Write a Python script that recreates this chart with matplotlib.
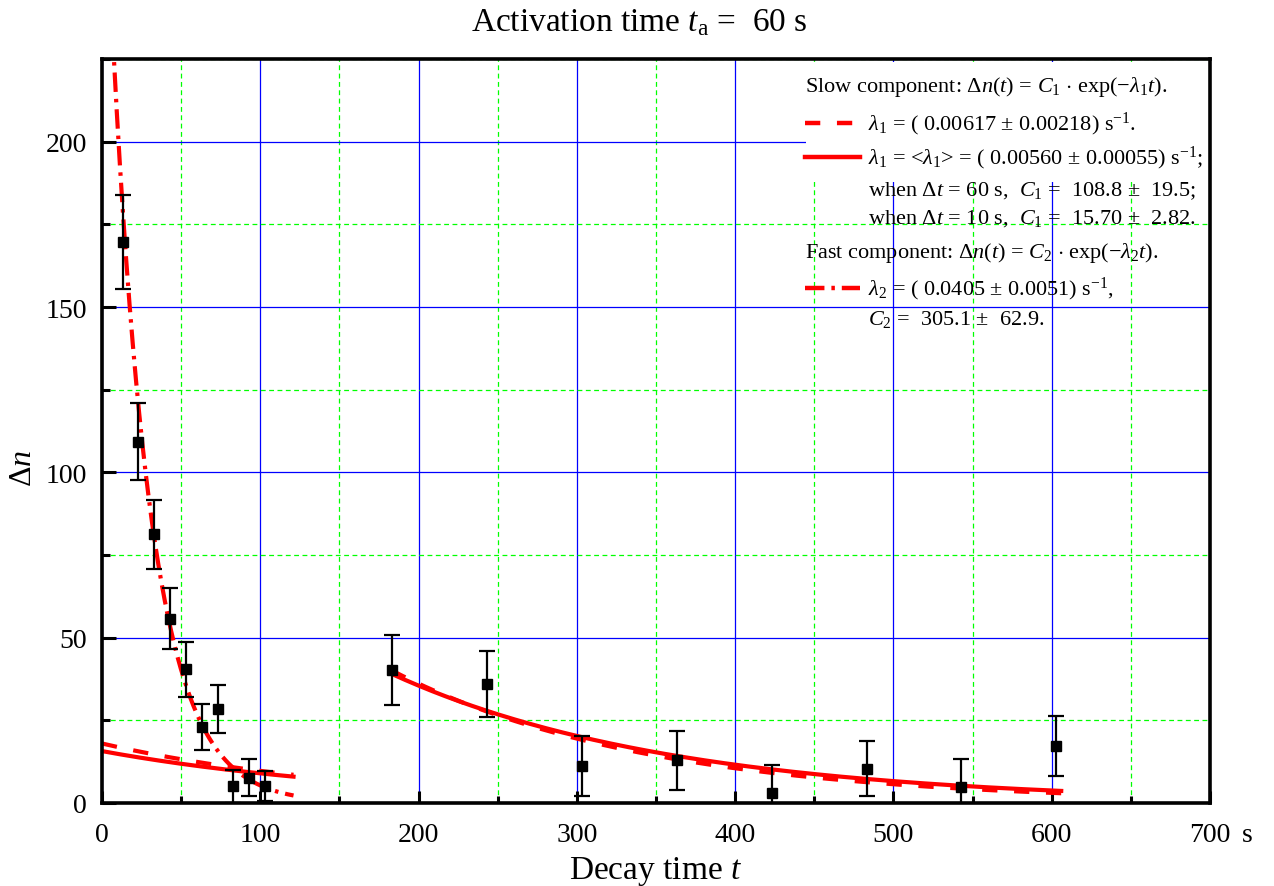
import numpy as np
import matplotlib
matplotlib.use('Agg')
import matplotlib.pyplot as plt
from matplotlib.ticker import MultipleLocator
from matplotlib.patches import Rectangle

plt.rcParams['font.family'] = ['Liberation Serif', 'DejaVu Serif']
plt.rcParams['mathtext.fontset'] = 'custom'
plt.rcParams['mathtext.rm'] = 'Liberation Serif'
plt.rcParams['mathtext.it'] = 'Liberation Serif:italic'
plt.rcParams['mathtext.bf'] = 'Liberation Serif:bold'
plt.rcParams['lines.scale_dashes'] = False

# ---------------- data ----------------
t_early = [13, 23, 33, 43, 53, 63, 73, 83, 93, 103]
dn_early = [169.6, 109.3, 81.2, 55.7, 40.4, 23.0, 28.4, 5.1, 7.7, 5.1]
err_early = [14.2, 11.7, 10.5, 9.2, 8.2, 7.0, 7.3, 5.0, 5.5, 4.6]

t_late = [183, 243, 303, 363, 423, 483, 543, 603]
dn_late = [40.2, 36.1, 11.2, 12.9, 3.0, 10.4, 4.8, 17.3]
err_late = [10.5, 10.0, 9.0, 9.0, 8.5, 8.3, 8.5, 9.0]

# fit parameters (from the legend)
lam1_fit = 0.00617
lam1_mean = 0.00560
C1_dt60 = 108.8
C1_dt10 = 15.70
C1_dash_dt60 = 124.0
C1_dash_dt10 = 18.0
lam2 = 0.0405
C2 = 305.1

early_span = (0.0, 121.0)
late_span = (183.0, 606.0)

x_ticks = [0, 100, 200, 300, 400, 500, 600, 700]
y_ticks = [0, 50, 100, 150, 200]

legend_lines = [
    r"Slow component: $\Delta n(t)$ = $C_1$ $\cdot$ exp($-\lambda_1 t$).",
    r"$\lambda_1$ = ( 0.00617 $\pm$ 0.00218) s$^{-1}$.",
    r"$\lambda_1$ = <$\lambda_1$> = ( 0.00560 $\pm$ 0.00055) s$^{-1}$;",
    r"when $\Delta t$ = 60 s,  $C_1$ =  108.8 $\pm$  19.5;",
    r"when $\Delta t$ = 10 s,  $C_1$ =  15.70 $\pm$  2.82.",
    r"Fast component: $\Delta n(t)$ = $C_2$ $\cdot$ exp($-\lambda_2 t$).",
    r"$\lambda_2$ = ( 0.0405 $\pm$ 0.0051) s$^{-1}$,",
    r"$C_2$ =  305.1 $\pm$  62.9.",
]

# ---------------- figure ----------------
W, H = 1274, 887
fig = plt.figure(figsize=(W / 100, H / 100), dpi=100)
ax_l, ax_r, ax_t, ax_b = 102, 1210, 60, 804
ax = fig.add_axes([ax_l / W, 1 - ax_b / H, (ax_r - ax_l) / W, (ax_b - ax_t) / H])

ax.set_xlim(0, 700)
ax.set_ylim(0, 225)
ax.xaxis.set_major_locator(MultipleLocator(100))
ax.xaxis.set_minor_locator(MultipleLocator(50))
ax.yaxis.set_major_locator(MultipleLocator(50))
ax.yaxis.set_minor_locator(MultipleLocator(25))
ax.set_xticks(x_ticks)
ax.set_yticks(y_ticks)

ax.set_axisbelow(True)
ax.grid(which='major', color='#0000FF', lw=0.9, ls='-')
ax.grid(which='minor', color='#00FF00', lw=0.9, ls=(0, (3.5, 2.5)))

for s in ax.spines.values():
    s.set_linewidth(2.6)
    s.set_color('black')

ax.tick_params(which='both', direction='in', top=False, right=False,
               width=2.2, labelsize=20, color='black')
ax.tick_params(axis='y', which='major', length=10, pad=11)
ax.tick_params(axis='y', which='minor', length=6)
ax.tick_params(axis='x', which='major', length=9, pad=14)
ax.tick_params(axis='x', which='minor', length=5)

# white background of the legend block
ax.add_patch(Rectangle(((806 - ax_l) / (ax_r - ax_l), (ax_b - 183) / (ax_b - ax_t)),
                       1 - (806 - ax_l) / (ax_r - ax_l), 1 - (ax_b - 183) / (ax_b - ax_t) - 0.004,
                       transform=ax.transAxes, facecolor='white', edgecolor='none', zorder=1))

red = '#FF0000'
dash_style = (0, (11, 12))
dashdot_style = (0, (14, 5, 2.5, 5))

te = np.linspace(*early_span, 300)
tl = np.linspace(*late_span, 300)

# slow component, dashed (lambda1 fit) and solid (<lambda1>)
ax.plot(te, C1_dash_dt10 * np.exp(-lam1_fit * te), color=red, lw=3, ls=dash_style, zorder=2)
ax.plot(tl, C1_dash_dt60 * np.exp(-lam1_fit * tl), color=red, lw=3, ls=dash_style, zorder=2)
ax.plot(te, C1_dt10 * np.exp(-lam1_mean * te), color=red, lw=3, ls='-', zorder=2)
ax.plot(tl, C1_dt60 * np.exp(-lam1_mean * tl), color=red, lw=3, ls='-', zorder=2)
# fast component
ax.plot(te, C2 * np.exp(-lam2 * te), color=red, lw=3, ls=dashdot_style, zorder=2)

# data with error bars
for tt, yy, ee in ((t_early, dn_early, err_early), (t_late, dn_late, err_late)):
    ax.errorbar(tt, yy, yerr=ee, fmt='s', color='black', ms=7, capsize=5.5,
                elinewidth=1.6, capthick=1.6, zorder=3, clip_on=True)

# axis labels and title
ax.set_xlabel(r"Decay time $t$", fontsize=24, labelpad=5)
ax.set_ylabel(r"$\Delta n$", fontsize=23)
ax.yaxis.set_label_coords(-(ax_l - 38) / (ax_r - ax_l), (ax_b - 468) / (ax_b - ax_t))
fig.text(0.5015, 1 - 23 / H, r"Activation time $t_{\rm a}$ =  60 s", ha='center', va='center', fontsize=24)

# " s" unit after the last x tick label
ax.annotate("s", xy=(700, 0), xycoords='data', xytext=(23, -14), textcoords='offset points',
            ha='left', va='top', fontsize=20)

# legend block
def fx(px):
    return (px - ax_l) / (ax_r - ax_l)

def fy(py):
    return (ax_b - py) / (ax_b - ax_t)

rows_y = [87, 124, 158, 191, 219, 253, 289, 319]
text_x = [805, 868, 868, 868, 868, 805, 868, 868]
samples = {1: dash_style, 2: '-', 6: dashdot_style}
for i, (txt, py, px) in enumerate(zip(legend_lines, rows_y, text_x)):
    ax.text(fx(px), fy(py), txt, transform=ax.transAxes, fontsize=16,
            ha='left', va='center', zorder=5)
    if i in samples:
        ax.plot([fx(805), fx(860)], [fy(py), fy(py)], transform=ax.transAxes,
                color=red, lw=3.2, ls=samples[i], zorder=5, clip_on=False)

fig.savefig('out.png', dpi=100)
